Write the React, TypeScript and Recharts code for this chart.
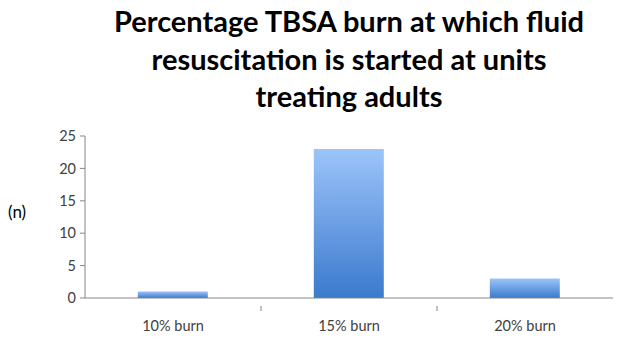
import React from "react";
import { BarChart, Bar, XAxis, YAxis } from "recharts";

const categories = ["10% burn", "15% burn", "20% burn"];
const counts = [1, 23, 3];
const yTicks = [0, 5, 10, 15, 20, 25];
const titleLines = [
  "Percentage TBSA burn at which fluid",
  "resuscitation is started at units",
  "treating adults",
];

const data = categories.map((name, i) => ({ name, n: counts[i] }));

const FONT = "Lato, 'Open Sans', sans-serif";
const AXIS = "#868686";
const PLOT_LEFT = 85;
const PLOT_RIGHT = 613;

const XTick = (props: any) => {
  const { x, y, payload, index } = props;
  const band = (PLOT_RIGHT - PLOT_LEFT) / categories.length;
  return (
    <g>
      {index < categories.length - 1 && (
        <line x1={x + band / 2} x2={x + band / 2} y1={y} y2={y + 5} stroke={AXIS} />
      )}
      <text x={x} y={y + 25} textAnchor="middle" fill="#404040" fontSize={14.5} fontFamily={FONT}>
        {payload.value}
      </text>
    </g>
  );
};

export default function App() {
  return (
    <div style={{ position: "relative", width: 628, height: 341, background: "#fff" }}>
      <style>{`body{margin:0}`}</style>
      <div
        style={{
          position: "absolute",
          left: PLOT_LEFT - 40,
          width: PLOT_RIGHT - PLOT_LEFT + 80,
          top: 2,
          textAlign: "center",
          fontFamily: FONT,
          fontWeight: 700,
          fontSize: 29,
          lineHeight: "37.5px",
          color: "#000",
        }}
      >
        {titleLines.map((l) => (
          <div key={l}>{l}</div>
        ))}
      </div>
      <div
        style={{
          position: "absolute",
          left: 8,
          top: 201,
          fontFamily: FONT,
          fontSize: 17,
          color: "#000",
        }}
      >
        (n)
      </div>
      <BarChart
        width={628}
        height={341}
        data={data}
        margin={{ top: 136, right: 628 - PLOT_RIGHT, left: 0, bottom: 0 }}
        barCategoryGap="30%"
      >
        <defs>
          <linearGradient id="barFill" x1="0" y1="0" x2="0" y2="1">
            <stop offset="0%" stopColor="#9cc4f9" />
            <stop offset="100%" stopColor="#3b7acd" />
          </linearGradient>
        </defs>
        <XAxis
          dataKey="name"
          height={43}
          axisLine={{ stroke: AXIS }}
          tickLine={false}
          tick={<XTick />}
          interval={0}
        />
        <YAxis
          width={PLOT_LEFT}
          domain={[0, 25]}
          ticks={yTicks}
          axisLine={{ stroke: AXIS }}
          tickLine={{ stroke: AXIS }}
          tickSize={5}
          tickMargin={4}
          tick={{ fill: "#404040", fontSize: 14.5, fontFamily: FONT }}
        />
        <Bar dataKey="n" fill="url(#barFill)" isAnimationActive={false} />
      </BarChart>
    </div>
  );
}
